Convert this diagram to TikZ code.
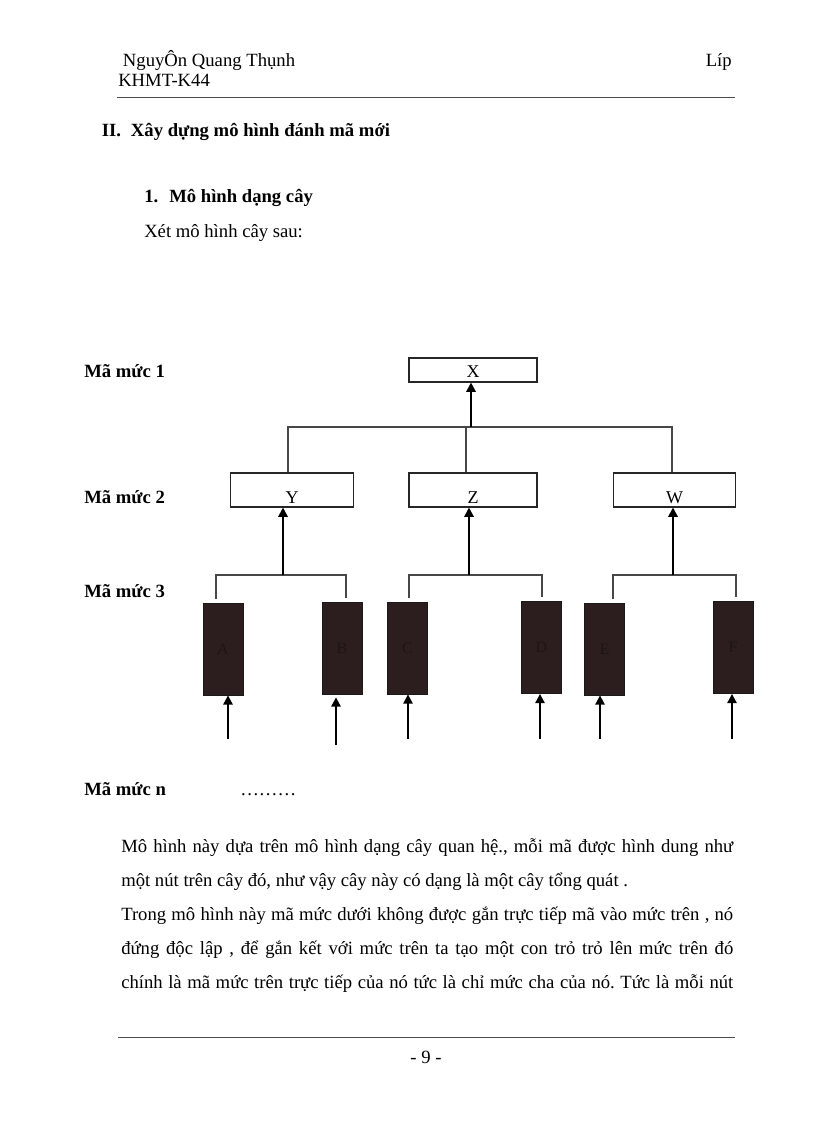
\documentclass[tikz,border=0pt]{standalone}
\usepackage{fontspec}
\setmainfont{Liberation Serif}
\usepackage{xcolor}
\usetikzlibrary{calc, arrows.meta, positioning}

\definecolor{lanau}{RGB}{44,30,30}
\definecolor{chunau}{RGB}{30,20,20}

\tikzset{
    mabox/.style={draw=black!85, line width=0.8pt, fill=white, inner sep=0pt,
        minimum width=92pt, text height=22.5pt, text depth=3pt,
        font=\fontsize{13.5}{15}\selectfont},
    gocbox/.style={mabox, minimum width=96pt, text height=14.25pt, text depth=3.75pt},
    labox/.style={draw=black!90, line width=0.6pt, fill=lanau, text=chunau, inner sep=0pt,
        minimum width=30pt, minimum height=69pt, font=\fontsize{12}{14}\selectfont},
    nhan/.style={anchor=base west, inner sep=0pt, font=\fontsize{14}{16}\selectfont\bfseries},
    chu/.style={anchor=base west, inner sep=0pt, font=\fontsize{14}{16}\selectfont},
    nhanh/.style={draw=black!72, line width=0.85pt},
    mui/.style={draw=black, line width=1.5pt, -{Triangle[length=7pt,width=7pt]}},
    ke/.style={draw=black!70, line width=0.75pt}
}

\begin{document}
\frenchspacing
\begin{tikzpicture}[x=0.75pt, y=-0.75pt]
        \fill[white] (0,0) rectangle (816,1123);
        \useasboundingbox (0,0) rectangle (816,1123);

        % header
        \node[chu] (ten) at (122.7,67) {NguyÔn Quang Thụnh};
        \node[chu, anchor=base east] (lop) at (732,67) {Líp};
        \node[chu] (khmt) at (118,87) {KHMT-K44};
        \coordinate (hl) at (117,98);
        \coordinate (hr) at (735,98);
        \draw[ke] (hl) -- (hr);

        \node[nhan] (muc) at (101.7,137) {II.};
        \node[nhan] (tieude) at (130.7,137) {Xây dựng mô hình đánh mã mới};
        \node[nhan] (so) at (144,203) {1.};
        \node[nhan] (tieumuc) at (169,203) {Mô hình dạng cây};
        \node[chu] (xet) at (144,238) {Xét mô hình cây sau:};

        % levels
        \node[nhan] (m1) at (84,377) {Mã mức 1};
        \node[nhan] (m2) at (84,503) {Mã mức 2};
        \node[nhan] (m3) at (84,597) {Mã mức 3};
        \node[nhan] (mn) at (84,795) {Mã mức n};
        \node[chu] (cham) at (240,795) {………};

        % tree
        \node[gocbox] (X) at (473,370) {X};
        \node[mabox] (Y) at (292,490) {Y};
        \node[mabox, minimum width=96pt] (Z) at (473,490) {Z};
        \node[mabox] (W) at (674.5,490) {W};

        \node[labox] (A) at (223,649) {A};
        \node[labox] (B) at (342,648) {B};
        \node[labox] (C) at (407.5,648) {C};
        \node[labox] (D) at (541.5,647.5) {D};
        \node[labox] (E) at (604.5,649) {E};
        \node[labox] (F) at (733,647.5) {F};

        \coordinate (xbar) at (471,427);
        \coordinate (ybar) at (283,575);
        \coordinate (zbar) at (469,575);
        \coordinate (wbar) at (673,575);

        \draw[nhanh] ($(Y.north)+(-4,0)$) |- (xbar) -| ($(W.north)+(-2.5,0)$);
        \draw[nhanh] ($(Z.north)+(-7,0)$) |- (xbar);
        \draw[mui] (xbar) -- (xbar |- X.south);

        \draw[nhanh] ($(A.north)+(-7,-4)$) |- (ybar) -| ($(B.north)+(4,-4)$);
        \draw[nhanh] ($(C.north)+(1.5,-4)$) |- (zbar) -| ($(D.north)+(0.5,-4)$);
        \draw[nhanh] ($(E.north)+(8.5,-4)$) |- (wbar) -| ($(F.north)+(3,-4)$);
        \draw[mui] (ybar) -- (ybar |- Y.south);
        \draw[mui] (zbar) -- (zbar |- Z.south);
        \draw[mui] (wbar) -- (wbar |- W.south);

        \foreach \la/\x in {A/228, C/408, D/540, E/600, F/732} {
            \coordinate (t\la) at (\x,739);
            \draw[mui] (t\la) -- (t\la |- \la.south);
        }
        \coordinate (tB) at (336,745);
        \draw[mui] (tB) -- ($(tB |- B.south)+(0,3)$);

        % text
        \node[chu] (d1) at (121,852) {\makebox[459pt][s]{Mô hình này dựa trên mô hình dạng cây quan hệ., mỗi mã được hình dung như}};
        \node[chu] (d2) at (121,886) {một nút trên cây đó, như vậy cây này có dạng là một cây tổng quát .};
        \node[chu] (d3) at (121,920) {\makebox[459pt][s]{Trong mô hình này mã mức dưới không được gắn trực tiếp mã vào mức trên , nó}};
        \node[chu] (d4) at (121,954) {\makebox[459pt][s]{đứng độc lập , để gắn kết với mức trên ta tạo một con trỏ trỏ lên mức trên đó}};
        \node[chu] (d5) at (121,988) {\makebox[459pt][s]{chính là mã mức trên trực tiếp của nó tức là chỉ mức cha của nó. Tức là mỗi nút}};

        % footer
        \coordinate (fl) at (118,1037);
        \coordinate (fr) at (735,1037);
        \draw[ke] (fl) -- (fr);
        \node[chu, anchor=base] (trang) at (426,1063) {- 9 -};
\end{tikzpicture}
\end{document}
